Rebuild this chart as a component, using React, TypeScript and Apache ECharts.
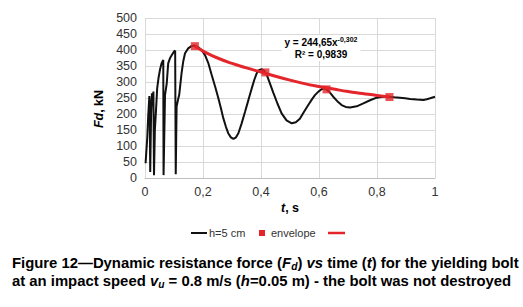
import React, { useEffect, useRef } from "react";
import * as echarts from "echarts";

// Measured curve h=5 cm: time (s) and force (kN)
const timeH5 = [
  0.002, 0.008, 0.011, 0.015, 0.016, 0.018, 0.021, 0.024, 0.026, 0.029, 0.031, 0.034, 0.038, 0.042,
  0.047, 0.052, 0.057, 0.063, 0.064, 0.069, 0.075, 0.08, 0.086, 0.093, 0.1, 0.104, 0.106, 0.109,
  0.114, 0.118, 0.126, 0.132, 0.138, 0.149, 0.16, 0.17, 0.185, 0.195, 0.207, 0.218, 0.23, 0.242,
  0.253, 0.262, 0.27, 0.279, 0.287, 0.296, 0.305, 0.314, 0.322, 0.333, 0.345, 0.357, 0.368, 0.377,
  0.385, 0.393, 0.402, 0.411, 0.42, 0.431, 0.443, 0.457, 0.471, 0.488, 0.506, 0.52, 0.534, 0.549,
  0.563, 0.575, 0.586, 0.598, 0.61, 0.621, 0.635, 0.649, 0.663, 0.678, 0.692, 0.707, 0.73, 0.753,
  0.776, 0.799, 0.82, 0.839, 0.86, 0.879, 0.897, 0.914, 0.937, 0.96, 0.972, 0.983, 1.0,
];
const forceH5 = [
  46, 129, 192, 256, 240, 19, 200, 265, 225, 270, 9, 150, 212, 280,
  315, 340, 358, 369, 9, 259, 296, 358, 374, 385, 395, 398, 12, 223,
  245, 260, 327, 365, 390, 405, 412, 414, 408, 400, 384, 360, 322, 285,
  249, 217, 187, 160, 140, 127, 122, 127, 140, 170, 207, 245, 280, 307,
  327, 337, 340, 335, 322, 295, 265, 232, 202, 180, 171, 174, 185, 208,
  228, 245, 259, 270, 278, 280, 270, 254, 240, 228, 222, 220, 224, 233,
  243, 251, 254, 254, 252, 251, 249, 247, 245, 244, 246, 249, 254,
];

// Envelope points
const envTime = [0.172, 0.415, 0.626, 0.843];
const envForce = [412, 330, 277, 253];

// Power trend line
const trendTime = [0.172, 0.21, 0.25, 0.3, 0.35, 0.4, 0.45, 0.5, 0.55, 0.6, 0.65, 0.7, 0.75, 0.8, 0.843];
const trendForce = [412, 392, 375, 358, 344, 331, 318, 306, 295, 286, 278, 270, 264, 258, 254];

const yTicks = [0, 50, 100, 150, 200, 250, 300, 350, 400, 450, 500];
const xTicks = [0, 0.2, 0.4, 0.6, 0.8, 1];

const FONT = "'Liberation Sans', Arial, sans-serif";

export default function App() {
  const ref = useRef<HTMLDivElement>(null);

  useEffect(() => {
    document.body.style.margin = "0";
    if (!ref.current) return;
    const chart = echarts.init(ref.current, undefined, { renderer: "svg" });

    const capRich = {
      n: { fontSize: 14.5, fontWeight: "bold", lineHeight: 18, fontFamily: FONT, color: "#1d1d1b" },
      i: { fontSize: 14.5, fontWeight: "bold", fontStyle: "italic", lineHeight: 18, fontFamily: FONT, color: "#1d1d1b" },
      s: { fontSize: 10, fontWeight: "bold", fontStyle: "italic", lineHeight: 10, verticalAlign: "bottom", fontFamily: FONT, color: "#1d1d1b" },
    };

    chart.setOption({
      animation: false,
      grid: { left: 145, right: 88, top: 18, bottom: 129, containLabel: false },
      xAxis: {
        type: "value",
        min: 0,
        max: 1,
        interval: 0.2,
        axisLine: { show: true, lineStyle: { color: "#bfbfbf", width: 1 } },
        axisTick: { show: false },
        splitLine: { show: true, lineStyle: { color: "#d9d9d9", width: 1 } },
        axisLabel: {
          fontFamily: FONT,
          fontSize: 12.5,
          color: "#333",
          margin: 7,
          formatter: (v: number) => String(v).replace(".", ","),
        },
        data: xTicks,
      },
      yAxis: {
        type: "value",
        min: 0,
        max: 500,
        interval: 50,
        axisLine: { show: false },
        axisTick: { show: false },
        splitLine: { show: true, lineStyle: { color: "#d9d9d9", width: 1 } },
        axisLabel: { fontFamily: FONT, fontSize: 12.5, color: "#333", margin: 8 },
        data: yTicks,
      },
      series: [
        {
          name: "h=5 cm",
          type: "line",
          data: timeH5.map((t, i) => [t, forceH5[i]]),
          showSymbol: false,
          smooth: false,
          lineStyle: { color: "#111", width: 2 },
          itemStyle: { color: "#111" },
          z: 2,
        },
        {
          name: "trend",
          type: "line",
          data: trendTime.map((t, i) => [t, trendForce[i]]),
          showSymbol: false,
          smooth: true,
          lineStyle: { color: "#e4252b", width: 3 },
          itemStyle: { color: "#e4252b" },
          z: 3,
        },
        {
          name: "envelope",
          type: "scatter",
          data: envTime.map((t, i) => [t, envForce[i]]),
          symbol: "rect",
          symbolSize: 8,
          itemStyle: { color: "#e4252b" },
          z: 4,
        },
      ],
      graphic: [
        {
          type: "text",
          x: 321,
          y: 48,
          z: 10,
          style: {
            text: "{a|y = 244,65x}{s|-0,302}\n{a|R² = 0,9839}",
            align: "center",
            verticalAlign: "middle",
            backgroundColor: "#fff",
            padding: [1, 3],
            rich: {
              a: { fontSize: 10, fontWeight: "bold", lineHeight: 12, fontFamily: FONT, color: "#333" },
              s: { fontSize: 7, fontWeight: "bold", lineHeight: 7, verticalAlign: "top", fontFamily: FONT, color: "#333" },
            },
          },
        },
        {
          type: "text",
          x: 99,
          y: 109,
          rotation: Math.PI / 2,
          style: {
            text: "{i|Fd}{b|, kN}",
            align: "center",
            verticalAlign: "middle",
            rich: {
              i: { fontSize: 12.5, fontWeight: "bold", fontStyle: "italic", fontFamily: FONT, color: "#333" },
              b: { fontSize: 12.5, fontWeight: "bold", fontFamily: FONT, color: "#333" },
            },
          },
        },
        {
          type: "text",
          x: 290,
          y: 208,
          style: {
            text: "{i|t}{b|, s}",
            align: "center",
            verticalAlign: "middle",
            rich: {
              i: { fontSize: 12.5, fontWeight: "bold", fontStyle: "italic", fontFamily: FONT, color: "#333" },
              b: { fontSize: 12.5, fontWeight: "bold", fontFamily: FONT, color: "#333" },
            },
          },
        },
        // legend
        { type: "line", shape: { x1: 191, y1: 233, x2: 207, y2: 233 }, style: { stroke: "#111", lineWidth: 2 } },
        {
          type: "text",
          x: 209,
          y: 233,
          style: { text: "h=5 cm", fontSize: 11, fontFamily: FONT, fill: "#333", verticalAlign: "middle", align: "left" },
        },
        { type: "rect", shape: { x: 259, y: 230, width: 6, height: 6 }, style: { fill: "#e4252b" } },
        {
          type: "text",
          x: 271,
          y: 233,
          style: { text: "envelope", fontSize: 11, fontFamily: FONT, fill: "#333", verticalAlign: "middle", align: "left" },
        },
        { type: "line", shape: { x1: 328, y1: 233, x2: 345, y2: 233 }, style: { stroke: "#e4252b", lineWidth: 2.5 } },
        // caption
        {
          type: "text",
          x: 12,
          y: 263,
          scaleX: 1.025,
          style: {
            text: "{n|Figure 12—Dynamic resistance force (}{i|F}{s|d}{n|) }{i|vs}{n| time (}{i|t}{n|) for the yielding bolt}",
            align: "left",
            verticalAlign: "middle",
            rich: capRich,
          },
        },
        {
          type: "text",
          x: 12,
          y: 281,
          scaleX: 1.025,
          style: {
            text: "{n|at an impact speed }{i|v}{s|u}{n| = 0.8 m/s (}{i|h}{n|=0.05 m) - the bolt was not destroyed}",
            align: "left",
            verticalAlign: "middle",
            rich: capRich,
          },
        },
      ],
    });

    return () => chart.dispose();
  }, []);

  return <div ref={ref} style={{ width: 523, height: 307 }} />;
}
